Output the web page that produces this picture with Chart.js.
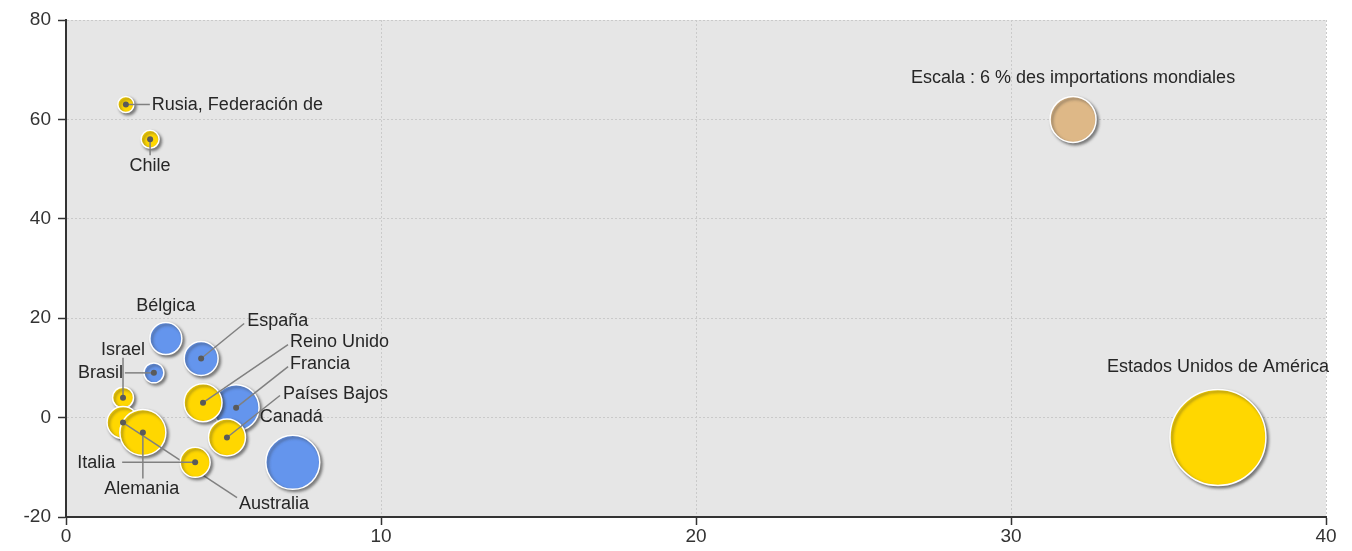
<!DOCTYPE html>
<html>
<head>
<meta charset="utf-8">
<script src="https://cdn.jsdelivr.net/npm/chart.js@4.4.1/dist/chart.umd.min.js"></script>
<style>
    html, body { margin: 0; padding: 0; background: #ffffff; }
    #wrap { width: 1352px; height: 551px; }
</style>
</head>
<body>
<div id="wrap"><canvas id="bubbles" width="1352" height="551"></canvas></div>
<script>
// Chart values
const countries = ['Rusia, Federación de', 'Chile', 'Bélgica', 'España', 'Brasil', 'Israel',
    'Reino Unido', 'Francia', 'Países Bajos', 'Canadá', 'Australia', 'Alemania', 'Italia',
    'Estados Unidos de América'];
const xValues = [1.9, 2.67, 3.17, 4.29, 2.79, 1.81, 4.35, 5.4, 5.11, 7.2, 1.81, 2.44, 4.1, 36.57];
const yValues = [63, 56, 15.9, 11.9, 9, 4, 3, 2, -4, -9, -1, -3, -9, -4];
// share of world imports (%), drives the bubble size
const shares = [0.73, 0.92, 2.9, 3.28, 1.13, 1.25, 4.09, 6.0, 3.88, 8.27, 2.9, 6.0, 2.55, 26.1];
// colour group; 'y2' = yellow drawn on a top layer
const groups = ['y', 'y', 'b', 'b', 'b', 'y', 'y', 'b', 'y', 'b', 'y', 'y', 'y2', 'y'];

const scaleLabel = 'Escala : 6 % des importations mondiales';
const scaleX = [31.97];
const scaleY = [60];
const scaleShare = [6];

const xTicks = [0, 10, 20, 30, 40];
const yTicks = [-20, 0, 20, 40, 60, 80];

// label layout: text offset, align, leader line end (pixels from bubble centre)
const labelLayout = {
    'Rusia, Federación de': { dx: 26, dy: 1, align: 'left', line: [24, 0] },
    'Chile': { dx: 0, dy: 27, align: 'center', line: [0, 16] },
    'Bélgica': { dx: 0, dy: -33, align: 'center', line: null },
    'España': { dx: 46, dy: -37, align: 'left', line: [43, -35] },
    'Brasil': { dx: -31, dy: 0, align: 'right', line: [-29, 0] },
    'Israel': { dx: 0, dy: -48, align: 'center', line: [0, -40] },
    'Reino Unido': { dx: 87, dy: -61, align: 'left', line: [85, -58] },
    'Francia': { dx: 54, dy: -44, align: 'left', line: [52, -41] },
    'Países Bajos': { dx: 56, dy: -43, align: 'left', line: [53, -42] },
    'Canadá': { dx: -33, dy: -45, align: 'left', line: null },
    'Australia': { dx: 116, dy: 81, align: 'left', line: [114, 75] },
    'Alemania': { dx: -1, dy: 57, align: 'center', line: [0, 46] },
    'Italia': { dx: -80, dy: 1, align: 'right', line: [-73, 0] },
    'Estados Unidos de América': { dx: 0, dy: -70, align: 'center', line: null }
};

const YELLOW = '#ffd700';
const BLUE = '#6495ed';
const TAN = '#deb887';
const FONT = '"Liberation Sans", Arial, sans-serif';

function bubbleRadius(share) {
    // 6 % of world imports is drawn as a 23px radius
    return 23 * Math.sqrt(share / 6);
}

function buildPoints(group) {
    const pts = [];
    countries.forEach((name, i) => {
        if (groups[i] !== group) return;
        pts.push({ x: xValues[i], y: yValues[i], r: bubbleRadius(shares[i]), name: name });
    });
    return pts;
}

const scalePoints = scaleX.map((x, i) => ({
    x: x, y: scaleY[i], r: bubbleRadius(scaleShare[i]), name: scaleLabel
}));

// plot background
const plotBackground = {
    id: 'plotBackground',
    beforeDraw(chart) {
        const a = chart.chartArea;
        const ctx = chart.ctx;
        ctx.save();
        ctx.fillStyle = '#e6e6e6';
        ctx.fillRect(a.left, a.top, a.right - a.left, a.bottom - a.top);
        ctx.restore();
    }
};

// drop shadow under bubbles, leader lines after each dataset, texts on top
const bubbleDecor = {
    id: 'bubbleDecor',
    beforeDatasetDraw(chart) {
        const ctx = chart.ctx;
        ctx.save();
        ctx.shadowColor = 'rgba(50,50,50,0.6)';
        ctx.shadowBlur = 3;
        ctx.shadowOffsetX = 2;
        ctx.shadowOffsetY = 2;
    },
    afterDatasetDraw(chart, args) {
        const ctx = chart.ctx;
        ctx.restore();
        const meta = chart.getDatasetMeta(args.index);
        const data = chart.data.datasets[args.index].data;
        ctx.save();
        meta.data.forEach((el, i) => {
            const lay = labelLayout[data[i].name];
            if (!lay || !lay.line) return;
            ctx.strokeStyle = '#808080';
            ctx.lineWidth = 1.5;
            ctx.beginPath();
            ctx.moveTo(el.x, el.y);
            ctx.lineTo(el.x + lay.line[0], el.y + lay.line[1]);
            ctx.stroke();
            ctx.fillStyle = '#5a5a5a';
            ctx.beginPath();
            ctx.arc(el.x, el.y, 3, 0, Math.PI * 2);
            ctx.fill();
        });
        ctx.restore();
    },
    afterDatasetsDraw(chart) {
        const ctx = chart.ctx;
        ctx.save();
        ctx.font = '18px ' + FONT;
        ctx.fillStyle = '#262626';
        ctx.textBaseline = 'middle';
        chart.data.datasets.forEach((ds, di) => {
            const meta = chart.getDatasetMeta(di);
            meta.data.forEach((el, i) => {
                const name = ds.data[i].name;
                const lay = labelLayout[name] || { dx: 0, dy: -41, align: 'center' };
                ctx.textAlign = lay.align;
                ctx.fillText(name, el.x + lay.dx, el.y + lay.dy);
            });
        });
        ctx.restore();
    }
};

function initializeChart() {
    const ctx = document.getElementById('bubbles').getContext('2d');
    // Chart.js paints the last dataset first, so the blue one goes last
    new Chart(ctx, {
        type: 'bubble',
        data: {
            datasets: [
                { data: scalePoints, backgroundColor: TAN, borderColor: '#ffffff', borderWidth: 1.5 },
                { data: buildPoints('y2'), backgroundColor: YELLOW, borderColor: '#ffffff', borderWidth: 1.5 },
                { data: buildPoints('y'), backgroundColor: YELLOW, borderColor: '#ffffff', borderWidth: 1.5 },
                { data: buildPoints('b'), backgroundColor: BLUE, borderColor: '#ffffff', borderWidth: 1.5 }
            ]
        },
        options: {
            responsive: false,
            animation: false,
            events: [],
            clip: false,
            layout: { autoPadding: false, padding: { top: 20, right: 26, left: 0, bottom: 0 } },
            scales: {
                x: {
                    type: 'linear',
                    min: xTicks[0],
                    max: xTicks[xTicks.length - 1],
                    afterBuildTicks: (scale) => { scale.ticks = xTicks.map(v => ({ value: v })); },
                    afterFit: (scale) => { scale.height = 34; },
                    ticks: { color: '#333333', font: { size: 19, family: FONT }, padding: 0 },
                    grid: { color: '#cacaca', tickColor: '#333333', tickLength: 8, tickWidth: 1.5 },
                    border: { display: true, color: '#333333', width: 2, dash: [2, 2] }
                },
                y: {
                    type: 'linear',
                    min: yTicks[0],
                    max: yTicks[yTicks.length - 1],
                    afterBuildTicks: (scale) => { scale.ticks = yTicks.map(v => ({ value: v })); },
                    afterFit: (scale) => { scale.width = 66; },
                    ticks: { color: '#333333', font: { size: 19, family: FONT }, padding: 7 },
                    grid: { color: '#cacaca', tickColor: '#333333', tickLength: 8, tickWidth: 1.5 },
                    border: { display: true, color: '#333333', width: 2, dash: [2, 2] }
                }
            },
            plugins: {
                legend: { display: false },
                tooltip: { enabled: false }
            }
        },
        plugins: [plotBackground, bubbleDecor]
    });
}

document.addEventListener('DOMContentLoaded', function() {
    initializeChart();
});
</script>
</body>
</html>
